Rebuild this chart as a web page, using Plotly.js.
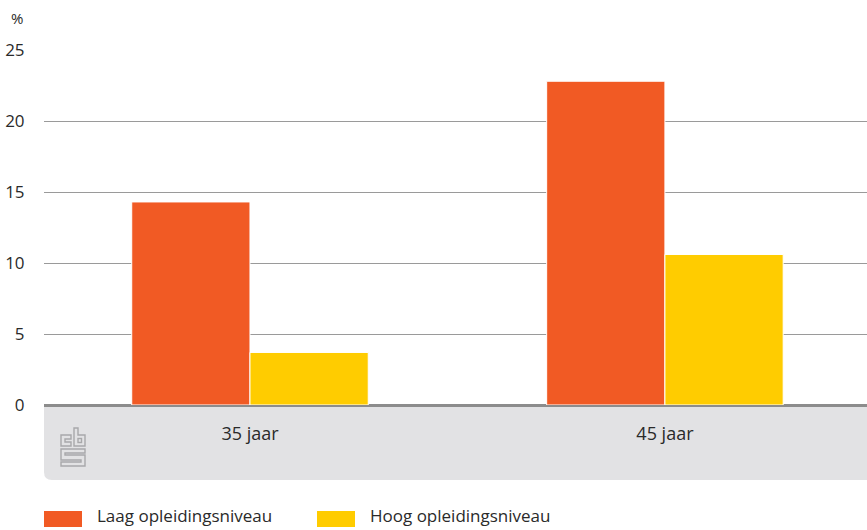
<!DOCTYPE html>
<html>
<head>
<meta charset="utf-8">
<script src="https://cdn.plot.ly/plotly-3.0.1.min.js"></script>
<style>html,body{margin:0;padding:0;background:#fff;}#chart{width:867px;height:530px;}</style>
</head>
<body>
<div id="chart"></div>
<script>
const categories = ["35 jaar", "45 jaar"];
const seriesNames = ["Laag opleidingsniveau", "Hoog opleidingsniveau"];
const laag = [14.3, 22.8];
const hoog = [3.7, 10.6];
const yTicks = [0, 5, 10, 15, 20, 25];
const colors = ["#F15A24", "#FFCC00"];

const font = "'Open Sans', 'Noto Sans', sans-serif";
const textColor = "#2a2a2a";

const traces = [laag, hoog].map((vals, i) => ({
  type: "bar",
  x: categories,
  y: vals,
  name: seriesNames[i],
  marker: {color: colors[i], line: {color: "#ffffff", width: 1}},
  showlegend: false,
  hoverinfo: "x+y+name"
}));

const W = 823, H = 355;
const bandBottom = -75 / H;
const rx = 8 / W, ry = 8 / H;
const bandPath = `M 0 0 L 1 0 L 1 ${bandBottom} L ${rx} ${bandBottom} Q 0 ${bandBottom} 0 ${bandBottom + ry} Z`;

const swatchY = -114 / H;
const textY = -110 / H;
const legendX = [0, 273 / W];
const shapes = [
  {type: "path", xref: "paper", yref: "paper", path: bandPath, fillcolor: "#E2E2E4", line: {width: 0}, layer: "below"}
];
const annotations = [
  {xref: "paper", yref: "paper", x: -35 / W, y: 1 + 32 / H, xanchor: "left", yanchor: "middle", text: "%", showarrow: false, font: {family: font, size: 15, color: textColor}}
];
seriesNames.forEach((n, i) => {
  const x0 = legendX[i];
  shapes.push({type: "rect", xref: "paper", yref: "paper", x0: x0, x1: x0 + 38 / W, y0: swatchY - 8 / H, y1: swatchY + 8 / H, fillcolor: colors[i], line: {width: 0}});
  annotations.push({xref: "paper", yref: "paper", x: x0 + 51 / W, y: textY, xanchor: "left", yanchor: "middle", text: n, showarrow: false, font: {family: font, size: 17, color: textColor}});
});

const logoSvg = `<svg xmlns="http://www.w3.org/2000/svg" width="26" height="40" viewBox="0 0 26 40">
<g fill="none" stroke="#a8a8aa" stroke-width="1.4">
<path d="M1 8 H11 V12 H5 V15 H11 V19 H1 Z"/>
<path d="M14 1 H18 V8 H25 V19 H14 Z"/>
<rect x="18" y="11.5" width="3.5" height="4"/>
<path d="M1 22 H25 V26 H5 V28 H25 V39 H1 V35 H21 V33 H1 Z"/>
</g></svg>`;
const logoUri = "data:image/svg+xml;base64," + btoa(logoSvg);

const layout = {
  width: 867, height: 530,
  margin: {l: 44, r: 0, t: 50, b: 125, pad: 0},
  paper_bgcolor: "#ffffff",
  plot_bgcolor: "rgba(0,0,0,0)",
  barmode: "group",
  bargap: 0.43,
  bargroupgap: 0.0,
  font: {family: font, size: 15, color: textColor},
  xaxis: {
    type: "category",
    range: [-0.4964, 1.487],
    showgrid: false,
    showline: false,
    zeroline: false,
    ticks: "outside", ticklen: 12, tickcolor: "rgba(0,0,0,0)",
    tickfont: {family: font, size: 18, color: textColor},
    fixedrange: true
  },
  yaxis: {
    range: [0, 25],
    tickvals: yTicks,
    ticktext: yTicks.map(String),
    showgrid: true, gridcolor: "#9a9a9a", gridwidth: 1,
    zeroline: true, zerolinecolor: "#8c8c8c", zerolinewidth: 3,
    showline: false,
    ticks: "outside", ticklen: 15, tickcolor: "rgba(0,0,0,0)",
    tickfont: {family: font, size: 17, color: textColor},
    fixedrange: true
  },
  shapes: shapes,
  annotations: annotations,
  images: [{
    source: logoUri, xref: "paper", yref: "paper",
    x: 16 / W, y: -22 / H, sizex: 26 / W, sizey: 40 / H,
    xanchor: "left", yanchor: "top", sizing: "stretch", layer: "above"
  }]
};

Plotly.newPlot("chart", traces, layout, {displayModeBar: false, staticPlot: true});
</script>
</body>
</html>
